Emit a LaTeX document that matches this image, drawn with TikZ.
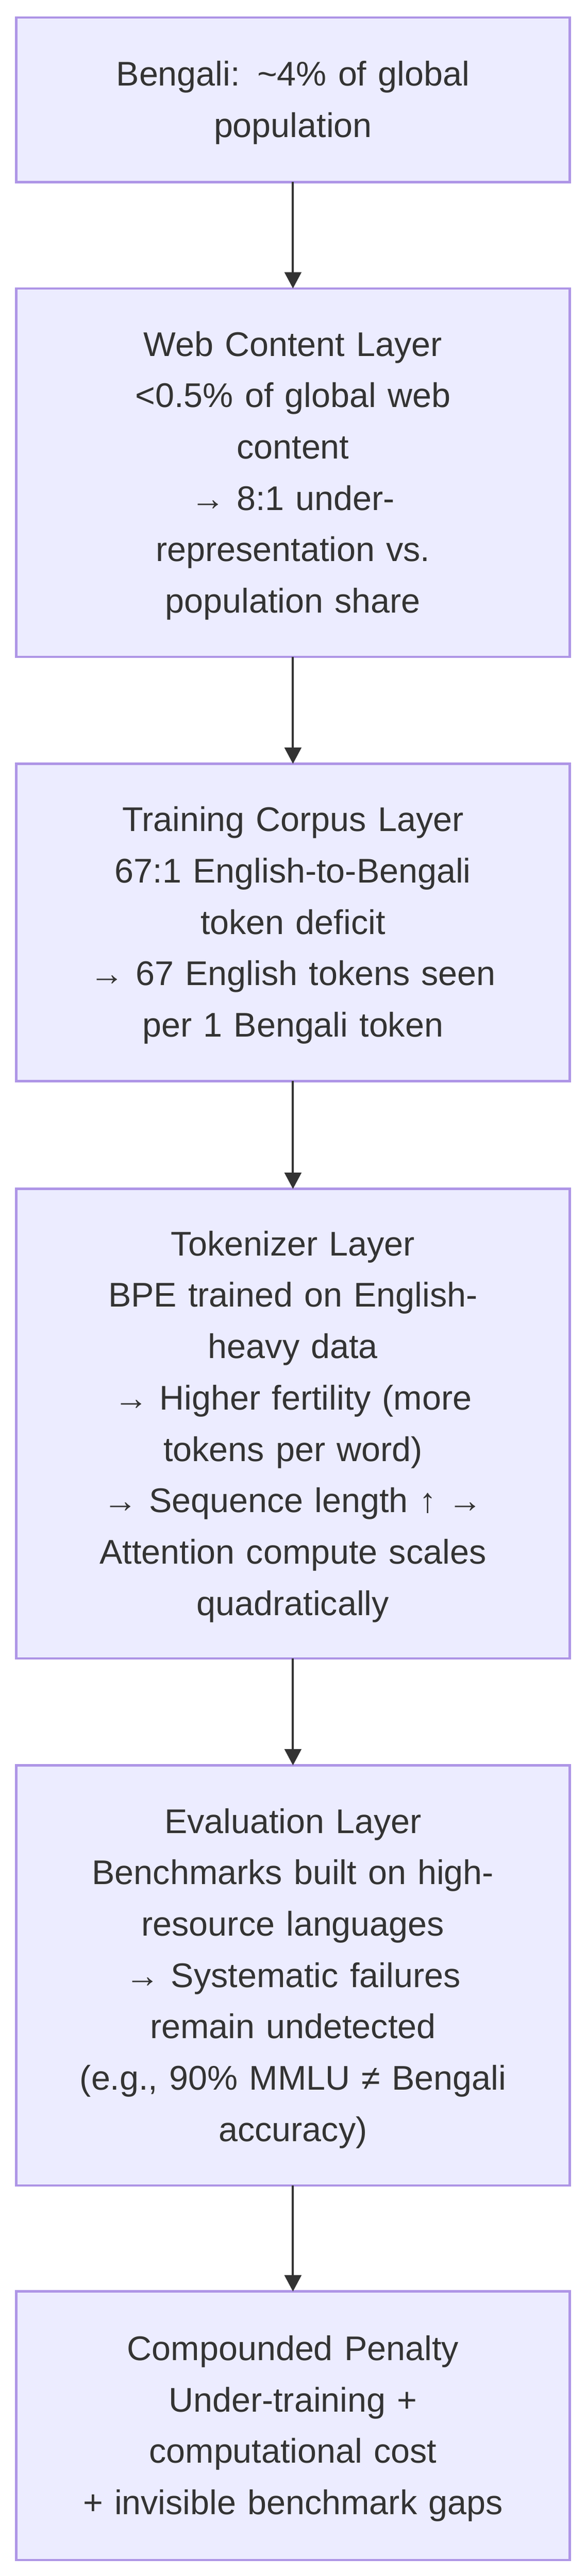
\documentclass[tikz,border=0pt]{standalone}
\usepackage{fontspec}
\setmainfont{Liberation Sans}
\usetikzlibrary{arrows.meta}
\definecolor{boxfill}{HTML}{ECECFF}
\definecolor{boxline}{HTML}{AE95E6}
\definecolor{inkgray}{HTML}{333333}
\newcommand{\linestrut}{\rule[-6.5pt]{0pt}{24pt}}
\tikzset{
    layerbox/.style={draw=boxline, fill=boxfill, line width=1.1pt, text=inkgray,
        font=\fontsize{16}{24}\selectfont, align=center, text width=250pt,
        minimum width=258.6pt, inner xsep=0pt, inner ysep=0pt, outer sep=0pt,
        execute at begin node=\linestrut, execute at end node=\linestrut},
    flowarrow/.style={draw=inkgray, line width=1pt, -{Triangle[width=7.8pt,length=7.6pt]}}
}
\begin{document}
\begin{tikzpicture}
            % Frame to fix the page size:
            \useasboundingbox                                                  (0pt,0pt) rectangle (273.66pt,-1203.65pt);
            % Layers, top to bottom
            \node[layerbox, minimum height= 76.85pt] (bengali)    at (136.83pt,  -46.64pt) {Bengali: \textasciitilde4\% of global\\population};
            \node[layerbox, minimum height=172.18pt] (webcontent) at (136.83pt, -220.87pt) {Web Content Layer\\<0.5\% of global web\\content\\→ 8:1 under-\\representation vs.\\population share};
            \node[layerbox, minimum height=148.23pt] (corpus)     at (136.83pt, -431.01pt) {Training Corpus Layer\\67:1 English-to-Bengali\\token deficit\\→ 67 English tokens seen\\per 1 Bengali token};
            \node[layerbox, minimum height=219.38pt] (tokenizer)  at (136.83pt, -665.22pt) {Tokenizer Layer\\BPE trained on English-\\heavy data\\→ Higher fertility (more\\tokens per word)\\→ Sequence length ↑ →\\Attention compute scales\\quadratically};
            \node[layerbox, minimum height=196.35pt] (evaluation) at (136.83pt, -923.03pt) {Evaluation Layer\\Benchmarks built on high-\\resource languages\\→ Systematic failures\\remain undetected\\(e.g., 90\% MMLU ≠ Bengali\\accuracy)};
            \node[layerbox, minimum height=125.43pt] (penalty)    at (136.83pt,-1133.41pt) {Compounded Penalty\\Under-training +\\computational cost\\+ invisible benchmark gaps};
            % Arrows between layers
            \draw[flowarrow] (bengali)    -- (webcontent);
            \draw[flowarrow] (webcontent) -- (corpus);
            \draw[flowarrow] (corpus)     -- (tokenizer);
            \draw[flowarrow] (tokenizer)  -- (evaluation);
            \draw[flowarrow] (evaluation) -- (penalty);
        \end{tikzpicture}
\end{document}
